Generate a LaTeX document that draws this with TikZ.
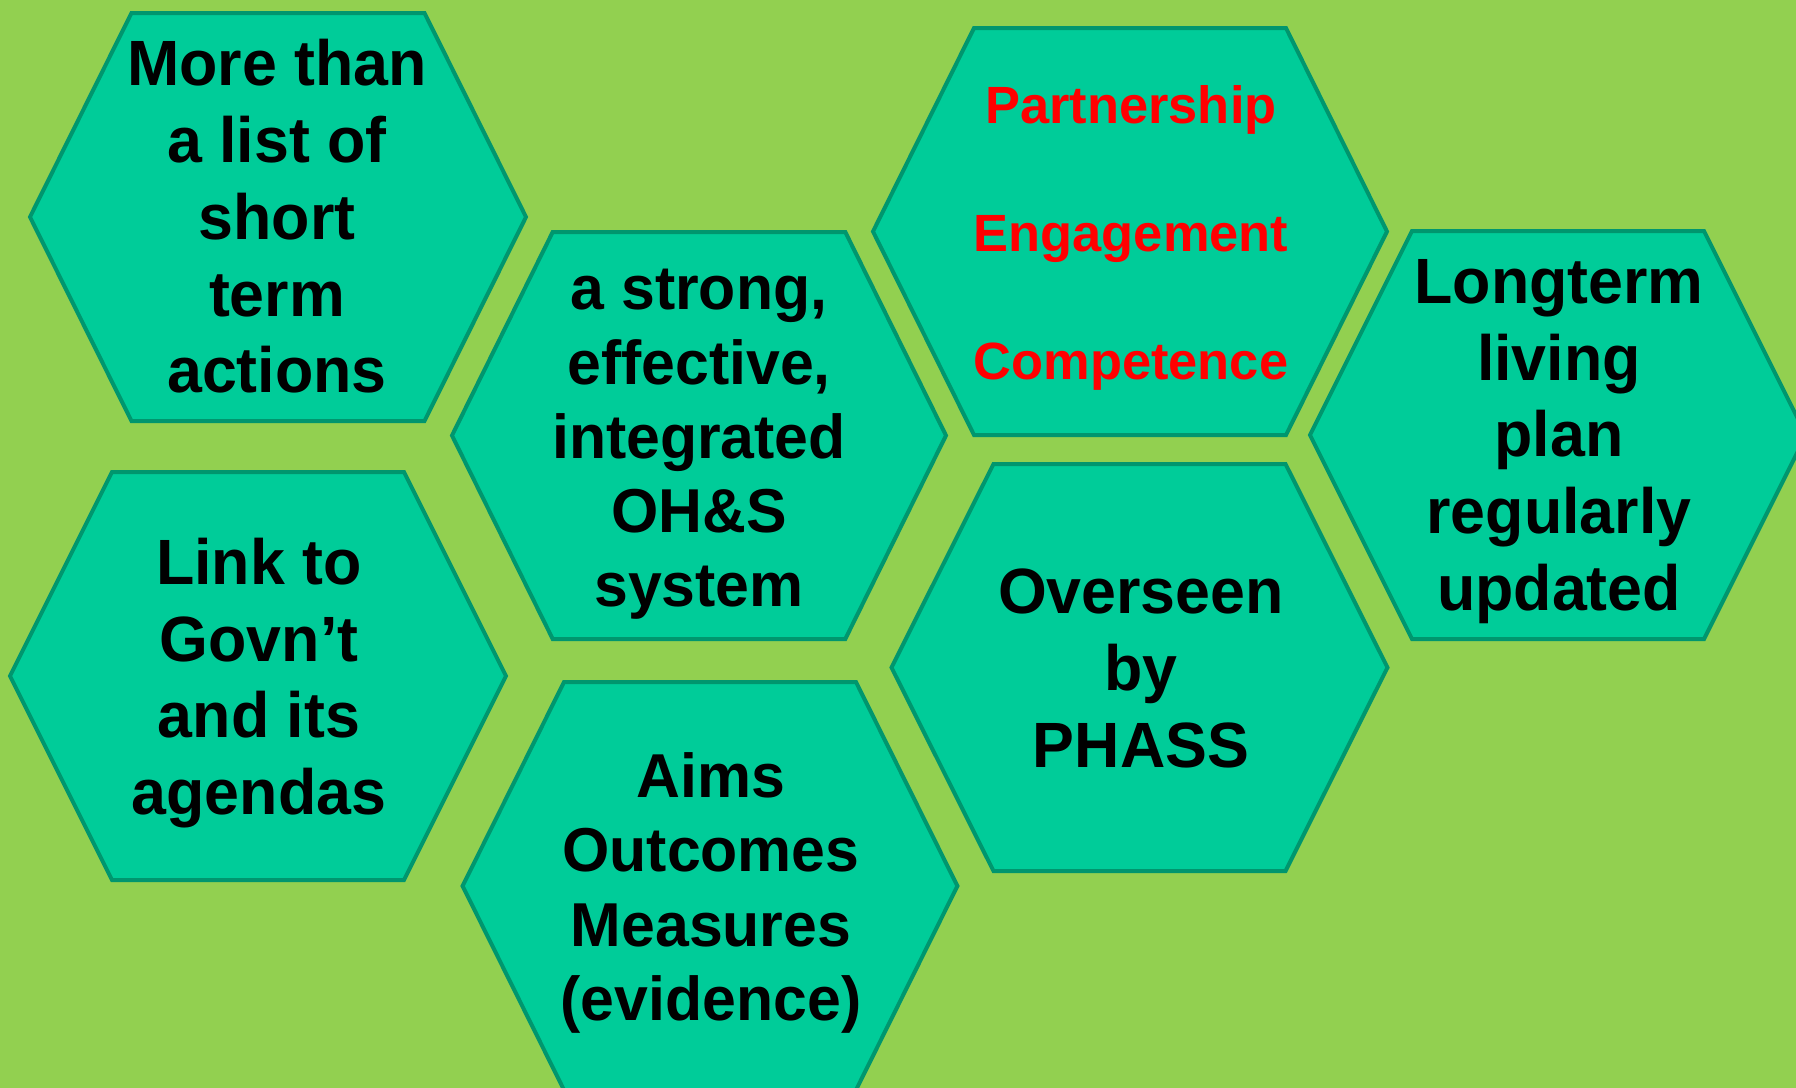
\documentclass[tikz,border=0pt]{standalone}
\usepackage{fontspec}
\setmainfont{Liberation Sans}[FakeStretch=0.98]
\newfontfamily\redfam{Liberation Sans}
\definecolor{bgc}{HTML}{92D050}
\definecolor{hexfill}{HTML}{00CC99}
\definecolor{hexline}{HTML}{00966E}
\definecolor{redtxt}{HTML}{FF0000}
\tikzset{
  hexstyle/.style={fill=hexfill, draw=hexline, line width=2pt, line join=miter},
  txt/.style={align=center, inner sep=0pt, text=black, font=\bfseries\fontsize{32}{38.4}\selectfont},
  txtsm/.style={txt, font=\bfseries\fontsize{31}{37.1}\selectfont},
  redtext/.style={align=center, inner sep=0pt, text=redtxt, font=\redfam\bfseries\fontsize{26.2}{64}\selectfont}
}
\newcommand\hexcell[5]{%
  \filldraw[hexstyle] ({#1-#3},#2) -- ({#1-#4},{#2-#5}) -- ({#1+#4},{#2-#5}) -- ({#1+#3},#2) -- ({#1+#4},{#2+#5}) -- ({#1-#4},{#2+#5}) -- cycle;}
\begin{document}
\begin{tikzpicture}[x=0.5pt,y=-0.5pt]
\useasboundingbox (0,0) rectangle (1796,1088);
\clip (0,0) rectangle (1796,1088);
\fill[bgc] (0,0) rectangle (1796,1088);
% hexagons: cx, cy, half width, half flat, half height
\hexcell{278}{217}{248}{146.5}{204}
\hexcell{258}{676}{248}{146}{204}
\hexcell{699}{435.5}{247}{146.3}{203.5}
\hexcell{710}{886}{247.4}{146}{204}
\hexcell{1130}{231.5}{257}{156}{203.5}
\hexcell{1139.5}{667.5}{248}{146}{203.5}
\hexcell{1558}{435}{248}{146}{204}
% texts
\node[txt] (t1) at (277,216.5) {More than\\a list of\\short\\term\\actions};
\node[txt] (t2) at (259,683) {Link to\\Govn’t\\and its\\agendas};
\node[txtsm] (t3) at (699,444.5) {a strong,\\effective,\\integrated\\OH\&S\\system};
\node[txtsm] (t4) at (711,893) {Aims\\Outcomes\\Measures\\(evidence)};
\node[redtext] (t5) at (1131,237.5) {Partnership\\Engagement\\Competence};
\node[txt] (t6) at (1141,668.5) {Overseen\\by\\PHASS};
\node[txt] (t7) at (1559,441.5) {Longterm\\living\\plan\\regularly\\updated};
\end{tikzpicture}
\end{document}
